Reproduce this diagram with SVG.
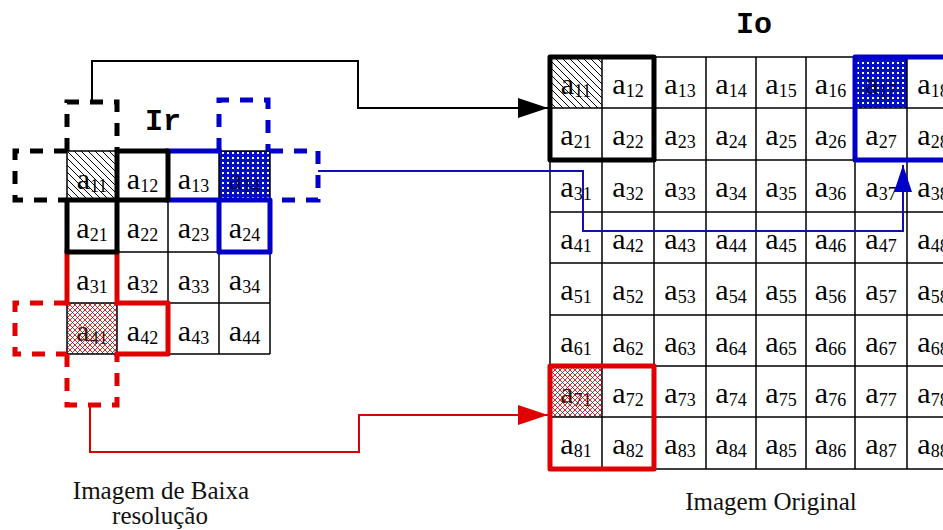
<svg xmlns="http://www.w3.org/2000/svg" width="943" height="530" viewBox="0 0 943 530">
  <defs>
    <style>
      .grid { fill: none; stroke: #000; stroke-width: 1.5; }
      .c { font-family: 'Liberation Serif', 'DejaVu Serif', serif; font-size: 30px; fill: #000; text-anchor: middle; }
      .s { font-size: 18px; }
      .title { font-family: 'Liberation Mono', 'DejaVu Sans Mono', monospace; font-size: 30px; font-weight: bold; fill: #000; text-anchor: middle; }
      .cap { font-family: 'Liberation Serif', 'DejaVu Serif', serif; font-size: 25px; fill: #111; text-anchor: middle; }
      .thick { fill: none; stroke-width: 5; stroke-linecap: square; stroke-linejoin: round; }
      .dash { fill: none; stroke-width: 5; stroke-dasharray: 13 11; }
      .k { stroke: #000; }
      .b { stroke: #0000c8; }
      .r { stroke: #e00000; }
      .link { fill: none; stroke-width: 2; }
    </style>
    <!-- diagonal hatch -->
    <pattern id="hatch" width="7" height="7" patternUnits="userSpaceOnUse">
      <rect width="7" height="7" fill="#fff"/>
      <path d="M0,0 L7,7 M-1,6 L1,8 M6,-1 L8,1" stroke="#000" stroke-width="1"/>
    </pattern>
    <!-- blue dotted fill -->
    <pattern id="bluedots" width="5" height="5" patternUnits="userSpaceOnUse">
      <rect width="5" height="5" fill="#0010c0"/>
      <rect x="2" y="2" width="2" height="2" fill="#fff"/>
    </pattern>
    <!-- red cross mesh -->
    <pattern id="redmesh" width="5" height="5" patternUnits="userSpaceOnUse">
      <rect width="5" height="5" fill="#fff"/>
      <path d="M0,0 L5,5 M5,0 L0,5" stroke="#c83030" stroke-width="1"/>
      <rect x="2" y="2" width="1" height="1" fill="#203070"/>
    </pattern>
    <marker id="ahK" markerUnits="userSpaceOnUse" markerWidth="32" markerHeight="22" refX="30" refY="10" orient="auto">
      <path d="M0,0 L30,10 L0,20 Z" fill="#000"/>
    </marker>
    <marker id="ahB" markerUnits="userSpaceOnUse" markerWidth="30" markerHeight="20" refX="27" refY="9" orient="auto">
      <path d="M0,0 L27,9 L0,18 Z" fill="#0000c8"/>
    </marker>
    <marker id="ahR" markerUnits="userSpaceOnUse" markerWidth="32" markerHeight="22" refX="30" refY="10" orient="auto">
      <path d="M0,0 L30,10 L0,20 Z" fill="#e00000"/>
    </marker>
  </defs>

  <rect width="943" height="530" fill="#fff"/>

  <!-- low resolution image Ir -->
  <g id="grid-ir">
    <rect x="67" y="151" width="50" height="49" fill="url(#hatch)"/>
    <rect x="219" y="151" width="51" height="49" fill="url(#bluedots)"/>
    <rect x="67" y="303" width="50" height="51" fill="url(#redmesh)"/>
    <path class="grid" d="M67,151 V354 M117,151 V354 M168,151 V354 M219,151 V354 M270,151 V354 M67,151 H270 M67,200 H270 M67,252 H270 M67,303 H270 M67,354 H270"/>
    <text class="c" x="92" y="189">a<tspan class="s" dy="3">11</tspan></text>
    <text class="c" x="142.5" y="189">a<tspan class="s" dy="3">12</tspan></text>
    <text class="c" x="193.5" y="189">a<tspan class="s" dy="3">13</tspan></text>
    <text class="c" x="244.5" y="189" style="fill:#000050">a<tspan class="s" dy="3">14</tspan></text>
    <text class="c" x="92" y="238">a<tspan class="s" dy="3">21</tspan></text>
    <text class="c" x="142.5" y="238">a<tspan class="s" dy="3">22</tspan></text>
    <text class="c" x="193.5" y="238">a<tspan class="s" dy="3">23</tspan></text>
    <text class="c" x="244.5" y="238">a<tspan class="s" dy="3">24</tspan></text>
    <text class="c" x="92" y="290">a<tspan class="s" dy="3">31</tspan></text>
    <text class="c" x="142.5" y="290">a<tspan class="s" dy="3">32</tspan></text>
    <text class="c" x="193.5" y="290">a<tspan class="s" dy="3">33</tspan></text>
    <text class="c" x="244.5" y="290">a<tspan class="s" dy="3">34</tspan></text>
    <text class="c" x="92" y="341" style="fill:#401010">a<tspan class="s" dy="3">41</tspan></text>
    <text class="c" x="142.5" y="341">a<tspan class="s" dy="3">42</tspan></text>
    <text class="c" x="193.5" y="341">a<tspan class="s" dy="3">43</tspan></text>
    <text class="c" x="244.5" y="341">a<tspan class="s" dy="3">44</tspan></text>
    <text class="title" x="163" y="130">Ir</text>
  </g>

  <!-- neighbourhood windows on Ir -->
  <g id="window-red">
    <path class="dash r" d="M67,303 H15 V354 H67"/>
    <path class="dash r" d="M67,354 V405 H117 V354"/>
    <path class="thick r" d="M67,303 V252 M117,252 V303 H168 V354 H117"/>
  </g>
  <g id="window-blue">
    <path class="dash b" d="M219,151 V100 H268 V151"/>
    <path class="dash b" d="M270,151 H318 V200 H270"/>
    <path class="thick b" d="M168,151 H219 M168,200 H270 V252 H219 V200"/>
  </g>
  <g id="window-black">
    <path class="dash k" d="M67,151 V102 H117 V151"/>
    <path class="dash k" d="M67,151 H15 V200 H67"/>
    <rect class="thick k" x="117" y="151" width="51" height="49"/>
    <rect class="thick k" x="67" y="200" width="50" height="52"/>
  </g>

  <!-- original image Io -->
  <g id="grid-io">
    <rect x="550" y="57" width="52" height="51" fill="url(#hatch)"/>
    <rect x="855" y="57" width="52" height="51" fill="url(#bluedots)"/>
    <rect x="550" y="366" width="52" height="51" fill="url(#redmesh)"/>
    <path class="grid" d="M550,57 V469 M602,57 V469 M654,57 V469 M706,57 V469 M756,57 V469 M806,57 V469 M855,57 V469 M907,57 V469 M550,57 H960 M550,108 H960 M550,160 H960 M550,212 H960 M550,263 H960 M550,315 H960 M550,366 H960 M550,417 H960 M550,469 H960"/>
    <g>
      <text class="c" x="576" y="94">a<tspan class="s" dy="3">11</tspan></text>
      <text class="c" x="628" y="94">a<tspan class="s" dy="3">12</tspan></text>
      <text class="c" x="680" y="94">a<tspan class="s" dy="3">13</tspan></text>
      <text class="c" x="731" y="94">a<tspan class="s" dy="3">14</tspan></text>
      <text class="c" x="781" y="94">a<tspan class="s" dy="3">15</tspan></text>
      <text class="c" x="830.5" y="94">a<tspan class="s" dy="3">16</tspan></text>
      <text class="c" x="881" y="94" style="fill:#000050">a<tspan class="s" dy="3">17</tspan></text>
      <text class="c" x="933" y="94">a<tspan class="s" dy="3">18</tspan></text>
    </g>
    <g>
      <text class="c" x="576" y="145">a<tspan class="s" dy="3">21</tspan></text>
      <text class="c" x="628" y="145">a<tspan class="s" dy="3">22</tspan></text>
      <text class="c" x="680" y="145">a<tspan class="s" dy="3">23</tspan></text>
      <text class="c" x="731" y="145">a<tspan class="s" dy="3">24</tspan></text>
      <text class="c" x="781" y="145">a<tspan class="s" dy="3">25</tspan></text>
      <text class="c" x="830.5" y="145">a<tspan class="s" dy="3">26</tspan></text>
      <text class="c" x="881" y="145">a<tspan class="s" dy="3">27</tspan></text>
      <text class="c" x="933" y="145">a<tspan class="s" dy="3">28</tspan></text>
    </g>
    <g>
      <text class="c" x="576" y="197">a<tspan class="s" dy="3">31</tspan></text>
      <text class="c" x="628" y="197">a<tspan class="s" dy="3">32</tspan></text>
      <text class="c" x="680" y="197">a<tspan class="s" dy="3">33</tspan></text>
      <text class="c" x="731" y="197">a<tspan class="s" dy="3">34</tspan></text>
      <text class="c" x="781" y="197">a<tspan class="s" dy="3">35</tspan></text>
      <text class="c" x="830.5" y="197">a<tspan class="s" dy="3">36</tspan></text>
      <text class="c" x="881" y="197">a<tspan class="s" dy="3">37</tspan></text>
      <text class="c" x="933" y="197">a<tspan class="s" dy="3">38</tspan></text>
    </g>
    <g>
      <text class="c" x="576" y="249">a<tspan class="s" dy="3">41</tspan></text>
      <text class="c" x="628" y="249">a<tspan class="s" dy="3">42</tspan></text>
      <text class="c" x="680" y="249">a<tspan class="s" dy="3">43</tspan></text>
      <text class="c" x="731" y="249">a<tspan class="s" dy="3">44</tspan></text>
      <text class="c" x="781" y="249">a<tspan class="s" dy="3">45</tspan></text>
      <text class="c" x="830.5" y="249">a<tspan class="s" dy="3">46</tspan></text>
      <text class="c" x="881" y="249">a<tspan class="s" dy="3">47</tspan></text>
      <text class="c" x="933" y="249">a<tspan class="s" dy="3">48</tspan></text>
    </g>
    <g>
      <text class="c" x="576" y="300">a<tspan class="s" dy="3">51</tspan></text>
      <text class="c" x="628" y="300">a<tspan class="s" dy="3">52</tspan></text>
      <text class="c" x="680" y="300">a<tspan class="s" dy="3">53</tspan></text>
      <text class="c" x="731" y="300">a<tspan class="s" dy="3">54</tspan></text>
      <text class="c" x="781" y="300">a<tspan class="s" dy="3">55</tspan></text>
      <text class="c" x="830.5" y="300">a<tspan class="s" dy="3">56</tspan></text>
      <text class="c" x="881" y="300">a<tspan class="s" dy="3">57</tspan></text>
      <text class="c" x="933" y="300">a<tspan class="s" dy="3">58</tspan></text>
    </g>
    <g>
      <text class="c" x="576" y="352">a<tspan class="s" dy="3">61</tspan></text>
      <text class="c" x="628" y="352">a<tspan class="s" dy="3">62</tspan></text>
      <text class="c" x="680" y="352">a<tspan class="s" dy="3">63</tspan></text>
      <text class="c" x="731" y="352">a<tspan class="s" dy="3">64</tspan></text>
      <text class="c" x="781" y="352">a<tspan class="s" dy="3">65</tspan></text>
      <text class="c" x="830.5" y="352">a<tspan class="s" dy="3">66</tspan></text>
      <text class="c" x="881" y="352">a<tspan class="s" dy="3">67</tspan></text>
      <text class="c" x="933" y="352">a<tspan class="s" dy="3">68</tspan></text>
    </g>
    <g>
      <text class="c" x="576" y="403" style="fill:#401010">a<tspan class="s" dy="3">71</tspan></text>
      <text class="c" x="628" y="403">a<tspan class="s" dy="3">72</tspan></text>
      <text class="c" x="680" y="403">a<tspan class="s" dy="3">73</tspan></text>
      <text class="c" x="731" y="403">a<tspan class="s" dy="3">74</tspan></text>
      <text class="c" x="781" y="403">a<tspan class="s" dy="3">75</tspan></text>
      <text class="c" x="830.5" y="403">a<tspan class="s" dy="3">76</tspan></text>
      <text class="c" x="881" y="403">a<tspan class="s" dy="3">77</tspan></text>
      <text class="c" x="933" y="403">a<tspan class="s" dy="3">78</tspan></text>
    </g>
    <g>
      <text class="c" x="576" y="454">a<tspan class="s" dy="3">81</tspan></text>
      <text class="c" x="628" y="454">a<tspan class="s" dy="3">82</tspan></text>
      <text class="c" x="680" y="454">a<tspan class="s" dy="3">83</tspan></text>
      <text class="c" x="731" y="454">a<tspan class="s" dy="3">84</tspan></text>
      <text class="c" x="781" y="454">a<tspan class="s" dy="3">85</tspan></text>
      <text class="c" x="830.5" y="454">a<tspan class="s" dy="3">86</tspan></text>
      <text class="c" x="881" y="454">a<tspan class="s" dy="3">87</tspan></text>
      <text class="c" x="933" y="454">a<tspan class="s" dy="3">88</tspan></text>
    </g>
    <rect class="thick k" x="550" y="57" width="104" height="103"/>
    <rect class="thick b" x="855" y="57" width="104" height="103"/>
    <rect class="thick r" x="550" y="366" width="104" height="103"/>
    <text class="title" x="754" y="33">Io</text>
  </g>

  <!-- mapping links -->
  <g id="connectors">
    <path class="link" stroke="#000" d="M92,100 V61 H358 V108 H548" marker-end="url(#ahK)"/>
    <path class="link" stroke="#1010b0" d="M318,171 H583 V231 H903 V165" marker-end="url(#ahB)"/>
    <path class="link" stroke="#d80000" d="M90,405 V452 H359 V415 H548" marker-end="url(#ahR)"/>
  </g>

  <g id="captions">
    <text class="cap" x="161" y="499">Imagem de Baixa</text>
    <text class="cap" x="160" y="524">resolução</text>
    <text class="cap" x="771" y="510">Imagem Original</text>
  </g>
</svg>
